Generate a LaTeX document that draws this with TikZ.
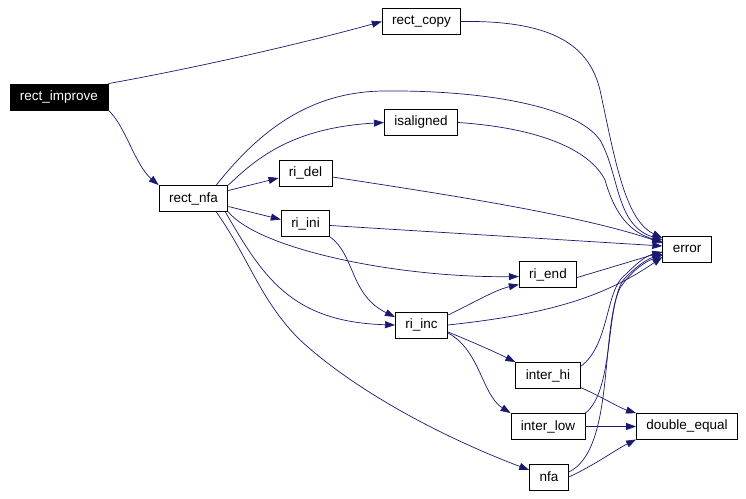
\documentclass[tikz,border=0pt]{standalone}
\usepackage{fontspec}
\setmainfont{Liberation Sans}
\usetikzlibrary{arrows.meta}
\definecolor{edgeblue}{HTML}{191970}

\begin{document}
\begin{tikzpicture}[x=1pt, y=-1pt,
    fn/.style={draw, thick, rectangle, inner xsep=10pt, minimum height=26pt,
               font=\fontsize{13.5}{15}\selectfont},
    fnroot/.style={fn, fill=black, text=white},
    call/.style={draw=edgeblue, line width=0.7pt, -{Triangle[length=10pt, width=7pt]}, fill=none}]
    \useasboundingbox (0,0) rectangle (746,498);

    \node[fnroot] (rect_improve) at (59,97) {rect\_improve};
    \node[fn] (rect_copy) at (421.5,21.5) {rect\_copy};
    \node[fn] (isaligned) at (421,122.5) {isaligned};
    \node[fn] (rect_nfa) at (193.5,198.5) {rect\_nfa};
    \node[fn] (ri_del) at (305.5,173) {ri\_del};
    \node[fn] (ri_ini) at (305.5,223.5) {ri\_ini};
    \node[fn] (error) at (687,249) {error};
    \node[fn] (ri_end) at (548,274.5) {ri\_end};
    \node[fn] (ri_inc) at (421.5,325) {ri\_inc};
    \node[fn] (inter_hi) at (548,375.5) {inter\_hi};
    \node[fn] (inter_low) at (548,426.5) {inter\_low};
    \node[fn] (double_equal) at (687,426.5) {double\_equal};
    \node[fn] (nfa) at (549,477) {nfa};

    % calls of rect_improve
    \draw[call] (rect_improve.north east) .. controls (200,67) and (300,44) .. (rect_copy.west);
    \draw[call] (rect_improve.south east) .. controls (125,125) and (135,165) .. (rect_nfa.north west);

    % calls of rect_nfa
    \draw[call] ([xshift=-12pt]rect_nfa.north east) .. controls (260,130) and (310,92) .. (383,91)
        .. controls (480,90) and (575,105) .. (600,140)
        .. controls (620,175) and (615,225) .. ([yshift=9pt]error.west);
    \draw[call] (rect_nfa.north east) .. controls (255,160) and (290,128) .. (isaligned.west);
    \draw[call] ([yshift=8pt]rect_nfa.east) -- ([yshift=-5pt]ri_del.west);
    \draw[call] ([yshift=-8pt]rect_nfa.east) -- ([yshift=4pt]ri_ini.west);
    \draw[call] (rect_nfa.south east) .. controls (260,250) and (400,278) .. ([yshift=-2pt]ri_end.west);
    \draw[call] ([xshift=-3pt]rect_nfa.south east) .. controls (262,275) and (290,322) .. (ri_inc.west);
    \draw[call] ([xshift=-12pt]rect_nfa.south east) .. controls (250,260) and (260,300) .. (300,340)
        .. controls (360,395) and (450,440) .. ([yshift=7pt]nfa.west);

    % calls of the helpers
    \draw[call] (rect_copy.east) .. controls (560,20) and (590,50) .. (600,90)
        .. controls (615,160) and (625,220) .. ([yshift=11pt]error.west);
    \draw[call] (isaligned.east) .. controls (540,128) and (590,150) .. (605,180)
        .. controls (615,215) and (630,232) .. ([yshift=7pt]error.west);
    \draw[call] ([yshift=-4pt]ri_del.east) .. controls (450,195) and (580,215) .. ([yshift=6pt]error.west);
    \draw[call] ([yshift=-2pt]ri_ini.east) -- ([yshift=3pt]error.west);
    \draw[call] (ri_ini.south east) .. controls (355,255) and (350,295) .. ([yshift=8pt]ri_inc.west);
    \draw[call] ([yshift=-3pt]ri_end.east) -- ([yshift=-3pt]error.west);

    % calls of ri_inc
    \draw[call] ([yshift=10pt]ri_inc.east) .. controls (475,302) and (495,290) .. ([yshift=-10pt]ri_end.west);
    \draw[call] (ri_inc.east) .. controls (540,315) and (600,300) .. ([yshift=-8pt]error.west);
    \draw[call] ([yshift=-7pt]ri_inc.east) .. controls (475,343) and (495,352) .. (inter_hi.north west);
    \draw[call] ([yshift=-8pt]ri_inc.east) .. controls (480,350) and (482,395) .. (inter_low.north west);

    % calls of the interval helpers
    \draw[call] ([yshift=9pt]inter_hi.east) .. controls (610,345) and (605,290) .. (625,275)
        .. controls (635,265) and (645,256) .. ([yshift=-3pt]error.west);
    \draw[call] ([yshift=-12pt]inter_hi.east) .. controls (600,396) and (620,408) .. (double_equal.north west);
    \draw[call] (inter_low.north east) .. controls (615,390) and (605,300) .. (625,278)
        .. controls (635,268) and (645,260) .. ([yshift=-5pt]error.west);
    \draw[call] (inter_low.east) -- (double_equal.west);
    \draw[call] ([yshift=5pt]nfa.east) .. controls (615,450) and (600,330) .. (620,288)
        .. controls (632,270) and (645,262) .. ([yshift=-6pt]error.west);
    \draw[call] (nfa.east) .. controls (595,465) and (615,450) .. ([yshift=-13pt]double_equal.west);
\end{tikzpicture}
\end{document}
